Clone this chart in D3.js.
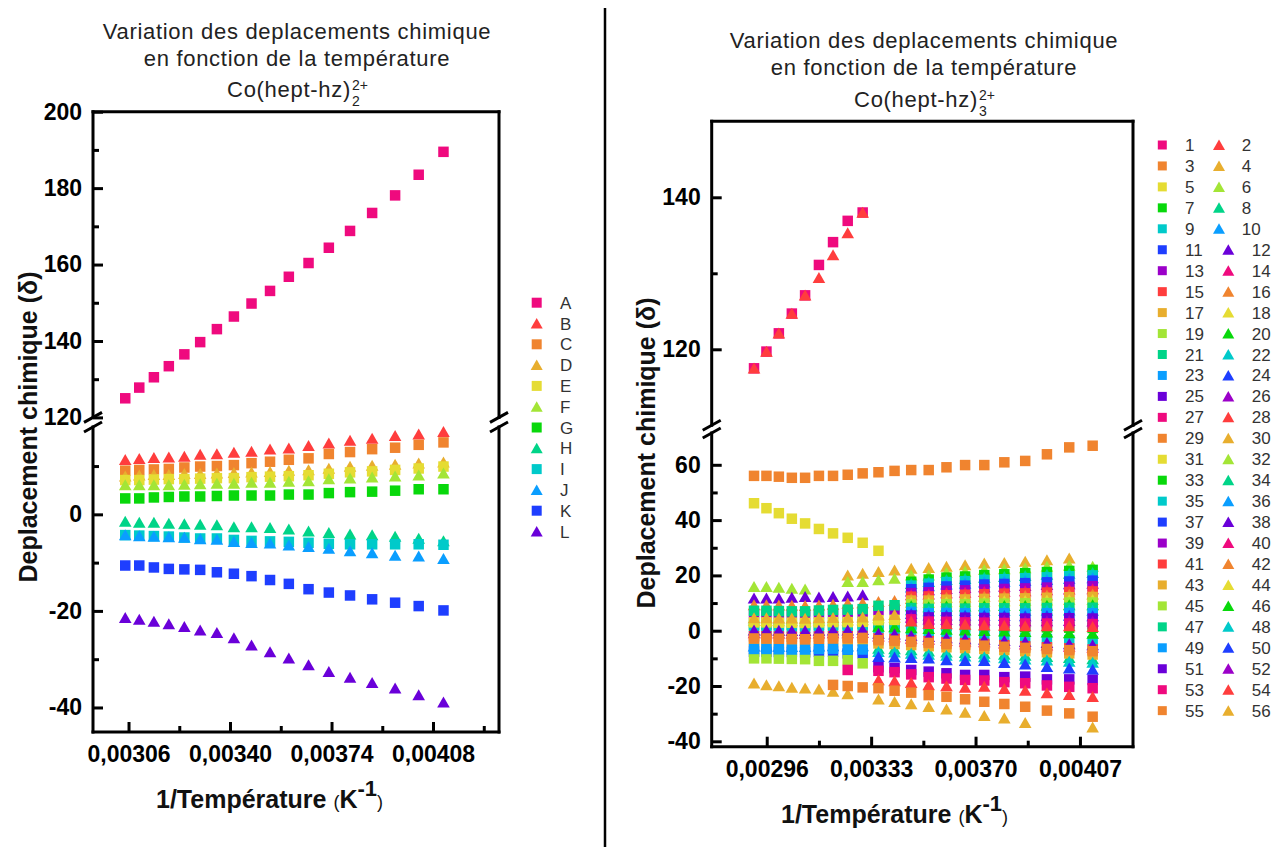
<!DOCTYPE html>
<html><head><meta charset="utf-8">
<script src="https://cdn.jsdelivr.net/npm/d3@7"></script>
<style>
body{margin:0;background:#fff;}
svg{display:block;font-family:"Liberation Sans",Arial,sans-serif;}
</style></head><body>
<svg id="c" width="1272" height="847"></svg>
<script>
const _ = null;
// ---------- LEFT CHART DATA : Co(hept-hz)2 2+ ----------
const leftX = [0.003049,0.003096,0.003145,0.003195,0.003247,0.003300,0.003356,0.003413,0.003472,0.003534,0.003597,0.003663,0.003731,0.003802,0.003876,0.003953,0.004032,0.004115];
const leftNames = ["A","B","C","D","E","F","G","H","I","J","K","L"];
const serA = [125.0,127.8,130.5,133.4,136.5,139.7,143.1,146.4,149.8,153.1,156.8,160.4,164.4,168.8,173.5,178.1,183.5,189.5];
const serB = [11.3,11.5,11.7,11.8,12.0,12.4,12.5,12.8,13.0,13.5,13.7,14.2,14.7,15.3,15.7,16.3,16.6,17.1];
const serC = [9.05,9.2,9.3,9.4,9.7,9.9,10.0,10.2,10.6,10.9,11.3,11.6,12.5,12.9,13.5,13.8,14.4,14.9];
const serD = [7.9,8.1,8.2,8.2,8.4,8.4,8.5,8.6,8.7,8.8,9.1,9.2,9.5,9.9,10.1,10.3,10.6,10.8];
const serE = [7.1,7.1,7.2,7.3,7.3,7.4,7.5,7.5,7.7,7.8,7.9,8.1,8.4,8.7,8.9,9.2,9.5,9.9];
const serF = [6.1,6.1,6.1,6.1,6.2,6.3,6.4,6.4,6.6,6.6,6.8,6.9,7.3,7.5,7.7,7.9,8.1,8.5];
const serG = [3.3,3.3,3.5,3.6,3.7,3.7,3.8,3.9,3.9,3.9,4.1,4.1,4.4,4.6,4.7,4.9,5.2,5.2];
const serH = [-1.5,-1.7,-1.7,-1.9,-2.0,-2.1,-2.2,-2.6,-2.6,-2.8,-3.1,-3.5,-3.8,-4.1,-4.3,-4.6,-5.0,-5.5];
const serI = [-4.3,-4.4,-4.5,-4.6,-4.8,-5.0,-5.0,-5.3,-5.5,-5.6,-5.7,-5.9,-6.1,-6.2,-6.2,-6.2,-6.2,-6.3];
const serJ = [-4.3,-4.5,-4.6,-4.7,-4.8,-5.1,-5.2,-5.7,-5.9,-6.0,-6.4,-6.7,-7.1,-7.6,-8.0,-8.5,-8.7,-9.2];
const serK = [-10.6,-10.6,-11.0,-11.3,-11.4,-11.5,-12.0,-12.3,-12.8,-13.6,-14.4,-15.5,-16.2,-16.8,-17.6,-18.3,-19.0,-19.9];
const serL = [-21.4,-21.8,-22.2,-22.7,-23.3,-24.0,-24.5,-25.6,-27.1,-28.5,-29.8,-31.2,-32.6,-33.8,-34.9,-36.0,-37.4,-38.9];
const leftSeries = [serA,serB,serC,serD,serE,serF,serG,serH,serI,serJ,serK,serL];
const leftXTicks = [0.00306,0.00340,0.00374,0.00408];
const leftXMinor = [0.00323,0.00357,0.00391,0.00425];
const leftYUpTicks = [120,140,160,180,200];
const leftYUpMinor = [130,150,170,190];
const leftYLoTicks = [0,-20,-40];
const leftYLoMinor = [10,-10,-30];

// ---------- RIGHT CHART DATA : Co(hept-hz)3 2+ ----------
const rightX = [0.002915,0.002959,0.003003,0.003049,0.003096,0.003145,0.003195,0.003247,0.003300,0.003356,0.003413,0.003472,0.003534,0.003597,0.003663,0.003731,0.003802,0.003876,0.003953,0.004032,0.004115];
const s1  = [117.5,119.7,122.1,124.7,127.1,131.1,134.1,136.9,138.0,_,_,_,_,_,_,_,_,_,_,_,_];
const s2  = [117.5,119.7,122.1,124.7,127.1,129.4,132.4,135.3,138.0,_,_,_,_,_,_,_,_,_,_,_,_];
const s3  = [56.0,56.0,55.7,55.3,55.3,56.0,56.0,56.4,56.9,57.3,57.8,58.1,58.1,59.1,59.9,59.9,60.9,61.4,63.8,66.3,66.9];
const s4  = [-19.0,-19.6,-20.0,-20.5,-20.8,-21.2,-22.0,-22.9,_,-24.8,-25.7,-26.5,-27.5,-28.4,-29.6,-30.8,-31.7,-33.3,_,_,-34.9];
const s5  = [46.1,44.3,42.5,40.5,38.8,36.8,35.2,33.6,31.8,28.9,_,_,_,_,_,_,_,_,_,_,_];
const s6  = [15.9,15.9,15.6,15.3,15.0,_,_,_,_,_,_,_,_,_,_,_,_,_,_,_,_];
const s7  = [2.2,2.2,2.1,2.1,2.0,2.1,2.2,2.3,2.4,2.6,2.5,2.3,2.0,1.8,1.6,1.5,1.4,1.3,1.2,1.1,1.0];
const s8  = [_,_,_,_,_,_,_,_,_,-6.4,-6.6,-7.0,-7.4,-7.8,-8.0,-8.2,-8.6,-9.0,-9.4,-9.8,-10.2];
const s9  = [1.2,1.2,1.1,1.0,1.0,1.1,1.2,1.2,1.3,0.8,0.5,0.0,-0.5,-1.0,-1.4,-1.8,-2.2,-2.6,-3.0,-3.4,-3.8];
const s10 = [-5.6,-5.6,-5.7,-5.8,-5.8,-5.6,-5.5,-5.6,-5.5,_,_,_,_,_,_,_,_,_,_,_,_];
const s11 = [-7.6,-7.6,-7.7,-7.7,-7.8,-7.6,-7.6,-8.2,-8.2,_,_,_,_,_,_,_,_,_,_,_,_];
const s12 = [11.7,11.7,11.7,12.0,12.3,12.1,12.3,12.5,12.9,_,_,_,_,_,_,_,_,_,_,_,_];
const s13 = [6.0,6.0,5.9,5.9,5.8,6.0,6.1,6.2,6.3,7.4,7.6,_,_,_,_,_,_,_,_,_,_];
const s14 = [-0.8,-0.8,-0.9,-1.0,-1.0,-0.9,-0.8,-0.8,-0.7,-2.0,-2.3,-2.8,-3.2,-3.6,-3.9,-4.1,-4.5,-4.9,-5.3,-5.7,-6.1];
const s15 = [-2.0,-2.0,-2.1,-2.2,-2.3,-2.1,-2.0,-2.0,-1.9,-2.8,-3.0,-3.4,-3.8,-4.2,-4.5,-4.8,-5.2,-5.6,-6.0,-6.4,-6.8];
const s16 = [9.3,9.3,9.2,9.1,9.0,9.2,9.5,9.8,10.0,10.5,10.8,_,_,_,_,_,_,_,_,_,_];
const s17 = [-4.0,-4.0,-4.1,-4.2,-4.2,-4.0,-3.9,-3.8,-3.7,-4.6,-4.8,-5.2,-5.6,-6.0,-6.3,-6.6,-7.0,-7.4,-7.8,-8.2,-8.6];
const s18 = [3.6,3.6,3.5,3.5,3.4,3.6,3.7,3.8,3.9,4.6,4.8,_,_,_,_,_,_,_,_,_,_];
const s19 = [-10.0,-10.0,-10.1,-10.2,-10.3,-10.9,-10.9,-10.6,-11.8,_,_,_,_,_,_,_,_,_,_,_,_];
const s20 = [_,_,_,_,_,_,_,_,_,1.5,1.3,1.0,0.7,0.4,0.2,0.0,-0.2,-0.4,-0.6,-0.8,-1.0];
const s21 = [7.2,7.2,7.1,7.0,7.0,7.3,7.5,7.6,7.8,9.0,9.2,_,_,_,_,_,_,_,_,_,_];
const s22 = [_,_,_,_,_,_,_,_,_,-7.6,-7.8,-8.2,-8.6,-9.0,-9.2,-9.5,-9.9,-10.3,-10.7,-11.1,-11.5];
const s23 = [-6.6,-6.6,-6.7,-6.8,-6.8,-6.6,-6.5,-6.8,-6.8,_,_,_,_,_,_,_,_,_,_,_,_];
const s24 = [_,_,_,_,_,_,_,_,_,-9.4,-9.6,-9.8,-10.0,-10.6,-10.9,-10.9,-11.6,-12.1,-13.0,-13.6,-14.0];
const s25 = [_,_,_,_,_,_,_,_,_,-13.2,-13.5,-14.2,-14.8,-15.4,-16.0,-16.0,-16.8,-16.6,-17.6,-17.6,-17.8];
const s26 = [_,_,_,_,_,_,_,_,_,_,_,14.3,14.7,15.2,15.5,15.8,16.0,16.3,16.6,16.9,17.1];
const s27 = [_,_,_,_,_,_,_,-14.2,_,-14.5,-15.0,-15.8,-16.8,-17.3,-17.8,-18.0,-18.6,-19.0,-19.8,-20.3,-20.8];
const s28 = [_,_,_,_,_,_,_,_,_,-17.8,-18.2,-18.8,-19.6,-20.0,-20.5,-20.2,-21.0,-21.6,-22.5,-23.2,-23.9];
const s29 = [_,_,_,_,_,_,-19.6,-20.0,-20.5,-20.8,-21.7,-22.4,-23.3,-23.9,-24.8,-25.7,-26.5,-27.5,-28.9,-29.9,-31.1];
const s30 = [_,_,_,_,_,_,_,20.1,20.7,21.3,21.9,22.5,22.8,23.2,23.8,24.4,24.6,25.0,25.6,26.2,_];
const s31 = [3.0,3.0,2.9,2.9,2.8,3.0,3.1,3.1,3.2,3.8,3.9,_,_,_,_,_,_,_,_,_,_];
const s32 = [_,_,_,_,_,_,_,17.7,17.7,18.3,18.9,20.1,20.1,21.0,21.4,22.0,22.3,22.7,23.2,23.6,23.2];
const s33 = [_,_,_,_,_,_,_,_,_,_,_,17.7,18.5,19.2,19.6,20.1,20.4,20.8,21.2,21.6,22.0];
const s34 = [_,_,_,_,_,_,_,_,_,_,_,17.0,17.7,18.4,18.8,19.2,19.5,19.9,20.3,20.7,21.0];
const s35 = [_,_,_,_,_,_,_,_,_,_,_,16.3,17.0,17.6,17.9,18.4,18.6,19.0,19.3,19.7,20.0];
const s36 = [_,_,_,_,_,_,_,_,_,_,_,15.7,16.2,16.8,17.1,17.5,17.8,18.1,18.4,18.8,19.1];
const s37 = [_,_,_,_,_,_,_,_,_,_,_,15.0,15.5,16.0,16.3,16.7,16.9,17.2,17.5,17.8,18.1];
const s38 = [0.2,0.2,0.1,0.0,0.0,0.1,0.2,0.2,0.3,-1.0,-1.3,-1.8,-2.2,-2.6,-3.0,-3.2,-3.6,-4.0,-4.4,-4.8,-5.2];
const s39 = [_,_,_,_,_,_,_,_,_,_,_,13.6,13.9,14.4,14.6,14.9,15.1,15.3,15.6,15.9,16.1];
const s40 = [_,_,_,_,_,_,_,_,_,_,_,12.9,13.2,13.6,13.8,14.1,14.2,14.4,14.7,15.0,15.1];
const s41 = [_,_,_,_,_,_,_,_,_,_,_,12.3,12.4,12.8,13.0,13.2,13.4,13.5,13.8,14.0,14.2];
const s42 = [_,_,_,_,_,_,_,_,_,_,_,11.6,11.7,12.0,12.1,12.4,12.5,12.6,12.8,13.1,13.2];
const s43 = [_,_,_,_,_,_,_,_,_,_,_,10.9,10.9,11.2,11.3,11.5,11.6,11.7,11.9,12.1,12.2];
const s44 = [_,_,_,_,_,_,_,_,_,_,_,10.2,10.1,10.4,10.5,10.6,10.7,10.8,11.0,11.2,11.2];
const s45 = [_,_,_,_,_,_,_,_,_,_,_,9.5,9.4,9.6,9.6,9.8,9.8,9.9,10.0,10.2,10.2];
const s46 = [_,_,_,_,_,_,_,_,_,_,_,8.9,8.6,8.8,8.8,8.9,9.0,9.0,9.1,9.3,9.3];
const s47 = [_,_,_,_,_,_,_,_,_,_,_,8.2,7.9,8.0,8.0,8.1,8.1,8.1,8.2,8.3,8.3];
const s48 = [_,_,_,_,_,_,_,_,_,_,_,7.5,7.1,7.2,7.2,7.2,7.2,7.2,7.3,7.4,7.3];
const s49 = [_,_,_,_,_,_,_,_,_,_,_,6.8,6.3,6.4,6.3,6.3,6.3,6.2,6.3,6.4,6.3];
const s50 = [_,_,_,_,_,_,_,_,_,_,_,6.1,5.6,5.6,5.5,5.5,5.4,5.3,5.4,5.5,5.3];
const s51 = [_,_,_,_,_,_,_,_,_,_,_,5.5,4.8,4.8,4.7,4.6,4.6,4.4,4.5,4.5,4.4];
const s52 = [_,_,_,_,_,_,_,_,_,_,_,4.8,4.1,4.0,3.8,3.8,3.7,3.5,3.5,3.6,3.4];
const s53 = [_,_,_,_,_,_,_,_,_,_,_,4.1,3.3,3.2,3.0,2.9,2.8,2.6,2.6,2.6,2.4];
const s54 = [_,_,_,_,_,_,_,_,_,_,_,3.4,2.5,2.4,2.2,2.0,1.9,1.7,1.7,1.7,1.4];
const s55 = [-2.8,-2.8,-2.9,-3.0,-3.1,-2.9,-2.8,-2.7,-2.6,-3.4,-3.6,-4.0,-4.4,-4.8,-5.1,-5.4,-5.8,-6.2,-6.6,-7.0,-7.4];
const s56 = [4.6,4.6,4.5,4.5,4.4,4.6,4.7,4.8,4.9,5.6,5.8,_,_,_,_,_,_,_,_,_,_];
const rightSeries = [s1,s2,s3,s4,s5,s6,s7,s8,s9,s10,s11,s12,s13,s14,s15,s16,s17,s18,s19,s20,s21,s22,s23,s24,s25,s26,s27,s28,s29,s30,s31,s32,s33,s34,s35,s36,s37,s38,s39,s40,s41,s42,s43,s44,s45,s46,s47,s48,s49,s50,s51,s52,s53,s54,s55,s56];
const rightNames = rightSeries.map((d,i)=>String(i+1));
const rightXTicks = [0.00296,0.00333,0.00370,0.00407];
const rightXMinor = [0.003145,0.003515,0.003885];
const rightYUpTicks = [120,140];
const rightYUpMinor = [130];
const rightYLoTicks = [60,40,20,0,-20,-40];
const rightYLoMinor = [50,30,10,-10,-30];

// Origin-like colour cycle (13 colours), odd series = square, even = triangle
const palette = ["#EF0A7E","#FF3D3D","#F0842F","#E8AE2E","#E5DC33","#A3E536","#08D80B","#00D488","#00CACA","#0A9EFF","#1E3EFF","#6A00D9","#9B00C9"];

const svg = d3.select("#c");
const fmtX = d => d.toFixed(5).replace(".", ",");
const fmtY = d => String(d);

function shapePath(shape, s){
  if(shape==="sq"){ const h=s/2; return `M${-h},${-h}H${h}V${h}H${-h}Z`; }
  const w=s*1.2, h=s; return `M0,${-h/2-0.5}L${w/2},${h/2}L${-w/2},${h/2}Z`;
}

function chart(cfg){
  const g = svg.append("g");
  const x = d3.scaleLinear().domain(cfg.xDom).range([cfg.x0, cfg.x1]);
  const yU = d3.scaleLinear().domain(cfg.yUpDom).range([cfg.yUB, cfg.yTop]);
  const yL = d3.scaleLinear().domain(cfg.yLoDom).range([cfg.yBot, cfg.yLT]);
  const y = v => v >= cfg.split ? yU(v) : yL(v);

  cfg.series.forEach((vals, i) => {
    const shape = i % 2 === 0 ? "sq" : "tri";
    const col = palette[i % 13];
    const pts = vals.map((v,j)=>({x:cfg.xs[j], y:v})).filter(d=>d.y!==null);
    g.append("g").selectAll("path").data(pts).join("path")
      .attr("transform", d=>`translate(${x(d.x)},${y(d.y)})`)
      .attr("d", shapePath(shape, cfg.msize))
      .attr("fill", col);
  });

  const styleAxis = (sel, w) => {
    sel.select(".domain").remove();
    sel.selectAll(".tick line").attr("stroke","#000").attr("stroke-width",w);
    sel.selectAll(".tick text").attr("fill","#000").attr("font-size",23).attr("font-weight","bold")
      .attr("font-family",'"Liberation Sans",Arial,sans-serif');
  };
  const ax = (gen, tx, ty) => g.append("g").attr("transform",`translate(${tx},${ty})`).call(gen);
  styleAxis(ax(d3.axisLeft(yU).tickValues(cfg.yUpTicks).tickSize(-10).tickPadding(11).tickFormat(fmtY), cfg.x0, 0), 3);
  styleAxis(ax(d3.axisLeft(yU).tickValues(cfg.yUpMinor).tickSize(-6).tickFormat(""), cfg.x0, 0), 3);
  styleAxis(ax(d3.axisLeft(yL).tickValues(cfg.yLoTicks).tickSize(-10).tickPadding(11).tickFormat(fmtY), cfg.x0, 0), 3);
  styleAxis(ax(d3.axisLeft(yL).tickValues(cfg.yLoMinor).tickSize(-6).tickFormat(""), cfg.x0, 0), 3);
  styleAxis(ax(d3.axisBottom(x).tickValues(cfg.xTicks).tickSize(-10).tickPadding(14).tickFormat(fmtX), 0, cfg.yBot), 3);
  styleAxis(ax(d3.axisBottom(x).tickValues(cfg.xMinor).tickSize(-6).tickFormat(""), 0, cfg.yBot), 3);

  const L = (x1,y1,x2,y2) => g.append("line").attr("x1",x1).attr("y1",y1).attr("x2",x2).attr("y2",y2)
      .attr("stroke","#000").attr("stroke-width",3).attr("stroke-linecap","square");
  L(cfg.x0,cfg.yTop,cfg.x1,cfg.yTop);
  L(cfg.x0,cfg.yBot,cfg.x1,cfg.yBot);
  [cfg.x0,cfg.x1].forEach(xx=>{
    L(xx,cfg.yTop,xx,cfg.yUB);
    L(xx,cfg.yLT,xx,cfg.yBot);
    [cfg.yUB, cfg.yLT].forEach(yy=>{
      g.append("line").attr("x1",xx-9).attr("y1",yy+5).attr("x2",xx+9).attr("y2",yy-5)
        .attr("stroke","#000").attr("stroke-width",3);
    });
  });

  const t = g.append("text").attr("text-anchor","middle").attr("font-size",22).attr("fill","#222")
    .attr("letter-spacing",0.7);
  t.append("tspan").attr("x",cfg.tcx).attr("y",cfg.tY[0]).text("Variation des deplacements chimique");
  t.append("tspan").attr("x",cfg.tcx).attr("y",cfg.tY[1]).text("en fonction de la température");
  const t3 = g.append("text").attr("font-size",22).attr("fill","#222").attr("letter-spacing",0.7)
    .attr("y",cfg.tY[2]).text("Co(hept-hz)");
  const w3 = t3.node().getComputedTextLength();
  const x3 = cfg.tcx - (w3 + 16)/2;
  t3.attr("x", x3);
  g.append("text").attr("x",x3+w3+1).attr("y",cfg.tY[2]+9).attr("font-size",14).attr("fill","#222").text(cfg.sub);
  g.append("text").attr("x",x3+w3+1).attr("y",cfg.tY[2]-7).attr("font-size",14).attr("fill","#222").text("2+");

  g.append("text").attr("transform",`translate(${cfg.yTitleX},${cfg.yTitleY}) rotate(-90)`)
    .attr("text-anchor","middle").attr("font-size",25).attr("font-weight","bold").attr("fill","#111")
    .text("Deplacement chimique (δ)");
  const xt = g.append("text").attr("x",cfg.xTitleX).attr("y",cfg.xTitleY).attr("font-size",25)
    .attr("font-weight","bold").attr("fill","#111");
  xt.append("tspan").text("1/Température ");
  xt.append("tspan").attr("font-size",18).attr("font-weight","normal").text("(");
  xt.append("tspan").text("K");
  xt.append("tspan").attr("dy",-12).attr("font-size",22).text("-1");
  xt.append("tspan").attr("dy",12).attr("font-size",18).attr("font-weight","normal").text(")");
  return g;
}

chart({
  series:leftSeries, xs:leftX, msize:10.5,
  xDom:[0.002941,0.004301], x0:93, x1:499,
  yUpDom:[120,200], yUB:417.4, yTop:111.7,
  yLoDom:[-45.08,18.09], yBot:732, yLT:427,
  split:100,
  xTicks:leftXTicks, xMinor:leftXMinor,
  yUpTicks:leftYUpTicks, yUpMinor:leftYUpMinor, yLoTicks:leftYLoTicks, yLoMinor:leftYLoMinor,
  tcx:297, tY:[39,66,97], sub:"2",
  yTitleX:37, yTitleY:427, xTitleX:156, xTitleY:808
});
chart({
  series:rightSeries, xs:rightX, msize:10.5,
  xDom:[0.002765,0.004258], x0:711.7, x1:1133,
  yUpDom:[110,150], yUB:425.3, yTop:121.3,
  yLoDom:[-41.95,71.5], yBot:746.7, yLT:433,
  split:100,
  xTicks:rightXTicks, xMinor:rightXMinor,
  yUpTicks:rightYUpTicks, yUpMinor:rightYUpMinor, yLoTicks:rightYLoTicks, yLoMinor:rightYLoMinor,
  tcx:924, tY:[48,75,107], sub:"3",
  yTitleX:655, yTitleY:453, xTitleX:781, xTitleY:823
});

svg.append("line").attr("x1",605).attr("y1",8).attr("x2",605).attr("y2",847).attr("stroke","#000").attr("stroke-width",2.5);

const lg = svg.append("g");
leftNames.forEach((n,i)=>{
  const yy = 302.7 + i*20.8;
  lg.append("path").attr("transform",`translate(536.7,${yy})`)
    .attr("d", shapePath(i%2===0?"sq":"tri", 10)).attr("fill", palette[i%13]);
  lg.append("text").attr("x",560).attr("y",yy+6).attr("font-size",17).attr("fill","#333").text(n);
});
const rg = svg.append("g");
for(let r=0;r<28;r++){
  const yy = 145 + r*20.95;
  const io = 2*r, ie = 2*r+1;
  const single = rightNames[io].length===1;
  rg.append("path").attr("transform",`translate(1162.3,${yy})`).attr("d",shapePath("sq",9)).attr("fill",palette[io%13]);
  rg.append("text").attr("x",1185).attr("y",yy+6).attr("font-size",17).attr("fill","#333").text(rightNames[io]);
  const tx = single ? 1219 : 1228.3, lx = single ? 1241.7 : 1251.7;
  rg.append("path").attr("transform",`translate(${tx},${yy})`).attr("d",shapePath("tri",10)).attr("fill",palette[ie%13]);
  rg.append("text").attr("x",lx).attr("y",yy+6).attr("font-size",17).attr("fill","#333").text(rightNames[ie]);
}
</script>
</body></html>
